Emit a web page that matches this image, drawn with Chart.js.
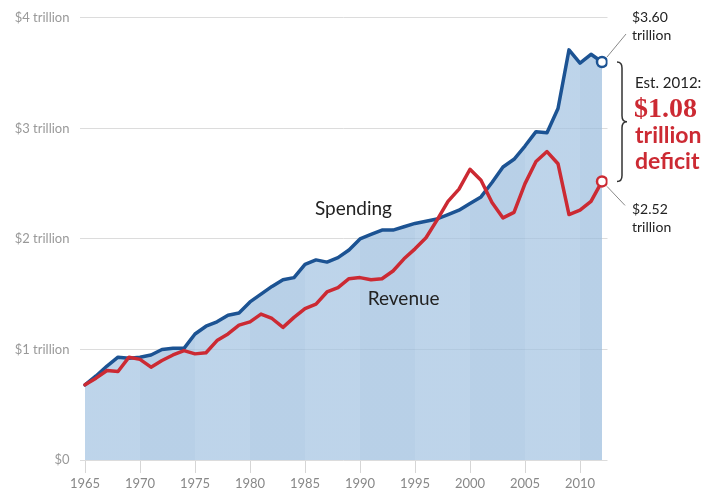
<!DOCTYPE html>
<html lang="en">
<head>
    <meta charset="UTF-8">
    <title>Federal spending and revenue</title>
    <script src="https://cdn.jsdelivr.net/npm/chart.js"></script>
</head>
<body style="margin:0;background:#fff;">
    <div style="position:relative;width:720px;height:494px;">
        <canvas id="chart" width="720" height="494"></canvas>
    </div>
    <script>
        // Data (trillions, constant dollars)
        const years = [1965, 1966, 1967, 1968, 1969, 1970, 1971, 1972, 1973, 1974,
            1975, 1976, 1977, 1978, 1979, 1980, 1981, 1982, 1983, 1984,
            1985, 1986, 1987, 1988, 1989, 1990, 1991, 1992, 1993, 1994,
            1995, 1996, 1997, 1998, 1999, 2000, 2001, 2002, 2003, 2004,
            2005, 2006, 2007, 2008, 2009, 2010, 2011, 2012];
        const spending = [0.68, 0.76, 0.85, 0.93, 0.92, 0.93, 0.95, 1.00, 1.01, 1.01,
            1.14, 1.21, 1.25, 1.31, 1.33, 1.43, 1.50, 1.57, 1.63, 1.65,
            1.77, 1.81, 1.79, 1.83, 1.90, 2.00, 2.04, 2.08, 2.08, 2.11,
            2.14, 2.16, 2.18, 2.22, 2.26, 2.32, 2.38, 2.51, 2.65, 2.72,
            2.84, 2.97, 2.96, 3.18, 3.71, 3.59, 3.67, 3.60];
        const revenue = [0.68, 0.74, 0.81, 0.80, 0.93, 0.91, 0.84, 0.90, 0.95, 0.99,
            0.96, 0.97, 1.08, 1.14, 1.22, 1.25, 1.32, 1.28, 1.20, 1.29,
            1.37, 1.41, 1.52, 1.56, 1.64, 1.65, 1.63, 1.64, 1.71, 1.82,
            1.91, 2.01, 2.17, 2.34, 2.45, 2.63, 2.53, 2.33, 2.19, 2.24,
            2.50, 2.70, 2.79, 2.68, 2.22, 2.26, 2.34, 2.52];
        const xTicks = [1965, 1970, 1975, 1980, 1985, 1990, 1995, 2000, 2005, 2010];
        const yTicks = [0, 1, 2, 3, 4];
        const yTickLabels = ['$0', '$1 trillion', '$2 trillion', '$3 trillion', '$4 trillion'];

        const BLUE = '#1c5393';
        const RED = '#cc2a33';
        const FILL_LIGHT = 'rgba(162,194,225,0.7)';
        const FILL_DARK = 'rgba(154,188,221,0.7)';

        // alternating 5-year bands inside the spending area
        function bandFill(ctx) {
            const chart = ctx.chart;
            if (!chart.chartArea) return FILL_LIGHT;
            const x = chart.scales.x;
            const x0 = x.getPixelForValue(years[0]);
            const x1 = x.getPixelForValue(years[years.length - 1]);
            const grad = chart.ctx.createLinearGradient(x0, 0, x1, 0);
            xTicks.forEach((start, i) => {
                const end = i < xTicks.length - 1 ? xTicks[i + 1] : years[years.length - 1];
                const t0 = (x.getPixelForValue(start) - x0) / (x1 - x0);
                const t1 = (x.getPixelForValue(end) - x0) / (x1 - x0);
                const c = i % 2 ? FILL_DARK : FILL_LIGHT;
                grad.addColorStop(Math.max(0, t0), c);
                grad.addColorStop(Math.min(1, t1 - 0.0005), c);
            });
            return grad;
        }

        const lastPoint = (ctx) => ctx.dataIndex === years.length - 1 ? 5 : 0;

        // text, brace and leader lines beside the lines
        const notes = {
            id: 'notes',
            afterDraw(chart) {
                const { ctx, scales } = chart;
                const px = v => scales.x.getPixelForValue(v);
                const py = v => scales.y.getPixelForValue(v);
                const last = years.length - 1;
                ctx.save();
                ctx.textBaseline = 'middle';
                ctx.textAlign = 'left';

                ctx.fillStyle = '#222';
                ctx.font = '19px Lato, sans-serif';
                ctx.fillText('Spending', px(1985.9), py(2.27));
                ctx.fillText('Revenue', px(1990.7), py(1.46));

                // leader lines
                ctx.strokeStyle = '#888';
                ctx.lineWidth = 1;
                ctx.beginPath();
                ctx.moveTo(px(years[last]) + 5, py(spending[last]) - 5);
                ctx.lineTo(px(years[last]) + 24, py(spending[last]) - 28);
                ctx.moveTo(px(years[last]) + 5, py(revenue[last]) + 5);
                ctx.lineTo(px(years[last]) + 23, py(revenue[last]) + 24);
                ctx.stroke();

                ctx.font = '14px Lato, sans-serif';
                ctx.fillStyle = '#222';
                ctx.fillText('$3.60', 632, py(spending[last]) - 45);
                ctx.fillText('trillion', 632, py(spending[last]) - 27);
                ctx.fillText('$2.52', 632, py(revenue[last]) + 28);
                ctx.fillText('trillion', 632, py(revenue[last]) + 46);

                // brace between the two end points
                const top = py(spending[last]), bot = py(revenue[last]);
                const mid = (top + bot) / 2;
                const bx = 617;
                ctx.strokeStyle = '#333';
                ctx.lineWidth = 1.5;
                ctx.beginPath();
                ctx.moveTo(bx, top);
                ctx.quadraticCurveTo(bx + 5, top, bx + 5, top + 6);
                ctx.lineTo(bx + 5, mid - 6);
                ctx.quadraticCurveTo(bx + 5, mid, bx + 10, mid);
                ctx.quadraticCurveTo(bx + 5, mid, bx + 5, mid + 6);
                ctx.lineTo(bx + 5, bot - 6);
                ctx.quadraticCurveTo(bx + 5, bot, bx, bot);
                ctx.stroke();

                ctx.fillStyle = '#222';
                ctx.font = '15px Lato, sans-serif';
                ctx.fillText('Est. 2012:', 635, 83);
                ctx.fillStyle = RED;
                ctx.font = 'bold 28px "Liberation Serif", serif';
                ctx.fillText('$1.08', 634, 110);
                ctx.font = 'bold 23px Lato, sans-serif';
                ctx.fillText('trillion', 635, 136);
                ctx.fillText('deficit', 635, 162);
                ctx.restore();
            }
        };

        new Chart(document.getElementById('chart'), {
            type: 'line',
            data: {
                datasets: [
                    {
                        label: 'Revenue',
                        data: years.map((y, i) => ({ x: y, y: revenue[i] })),
                        borderColor: RED,
                        borderWidth: 3.5,
                        fill: false,
                        tension: 0,
                        pointRadius: lastPoint,
                        pointBorderWidth: 2.5,
                        pointBorderColor: RED,
                        pointBackgroundColor: '#fff'
                    },
                    {
                        label: 'Spending',
                        data: years.map((y, i) => ({ x: y, y: spending[i] })),
                        borderColor: BLUE,
                        borderWidth: 3.5,
                        backgroundColor: bandFill,
                        fill: 'origin',
                        tension: 0,
                        pointRadius: lastPoint,
                        pointBorderWidth: 2.5,
                        pointBorderColor: BLUE,
                        pointBackgroundColor: '#fff'
                    }
                ]
            },
            options: {
                responsive: false,
                animation: false,
                layout: { padding: { top: 14, right: 112.5, left: 0, bottom: 0 } },
                plugins: { legend: { display: false }, tooltip: { enabled: false } },
                elements: { line: { borderJoinStyle: 'round', borderCapStyle: 'round' } },
                scales: {
                    x: {
                        type: 'linear',
                        min: 1964.5,
                        max: 2012.5,
                        afterBuildTicks: s => { s.ticks = xTicks.map(v => ({ value: v })); },
                        afterFit: s => { s.height = 34; },
                        border: { display: false },
                        grid: { drawOnChartArea: false, drawTicks: true, tickLength: 13, color: '#d6d6d6' },
                        ticks: {
                            padding: 3,
                            color: '#888',
                            font: { family: 'Lato', size: 13 },
                            maxRotation: 0,
                            callback: v => String(v)
                        }
                    },
                    y: {
                        min: 0,
                        max: 4,
                        afterBuildTicks: s => { s.ticks = yTicks.map(v => ({ value: v })); },
                        afterFit: s => { s.width = 79.5; },
                        border: { display: false },
                        grid: { drawTicks: false, color: '#dcdcdc' },
                        ticks: {
                            padding: 10,
                            color: '#999',
                            font: { family: 'Lato', size: 13 },
                            callback: v => yTickLabels[yTicks.indexOf(v)]
                        }
                    }
                }
            },
            plugins: [notes]
        });
    </script>
</body>
</html>
